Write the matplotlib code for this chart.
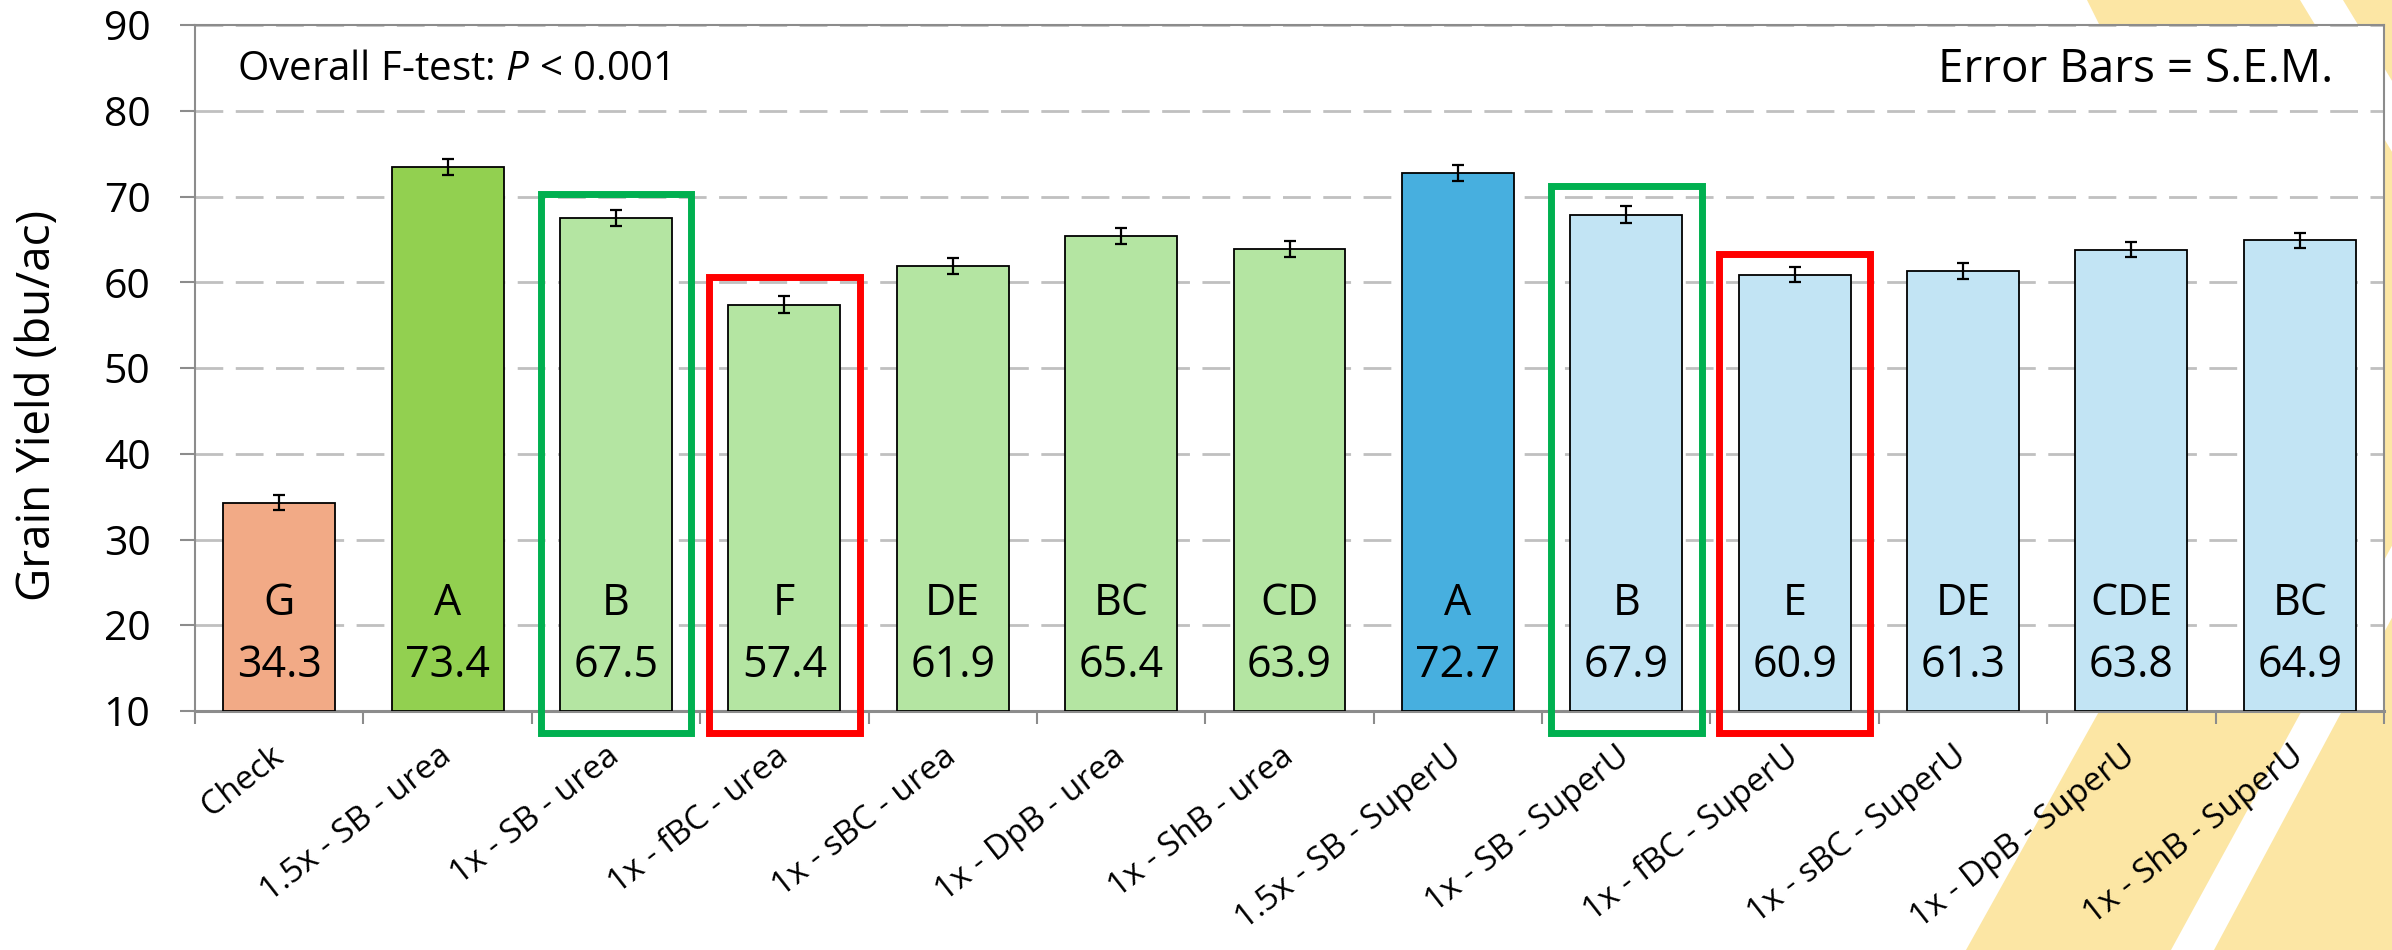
import matplotlib as mpl
mpl.use("Agg")
import matplotlib.pyplot as plt
from matplotlib.patches import Polygon, Rectangle
from matplotlib.transforms import ScaledTranslation
import numpy as np

# data
treatments = [
    "Check", "1.5x - SB - urea", "1x - SB - urea", "1x - fBC - urea",
    "1x - sBC - urea", "1x - DpB - urea", "1x - ShB - urea",
    "1.5x - SB - SuperU", "1x - SB - SuperU", "1x - fBC - SuperU",
    "1x - sBC - SuperU", "1x - DpB - SuperU", "1x - ShB - SuperU",
]
yield_bu = [34.3, 73.4, 67.5, 57.4, 61.9, 65.4, 63.9, 72.7, 67.9, 60.9, 61.3, 63.8, 64.9]
sem = [0.9, 0.95, 0.95, 0.95, 0.9, 0.95, 0.9, 0.95, 0.95, 0.9, 0.9, 0.9, 0.9]
letters = ["G", "A", "B", "F", "DE", "BC", "CD", "A", "B", "E", "DE", "CDE", "BC"]
bar_colors = ["#F2AA86", "#92D050"] + ["#B4E5A2"] * 5 + ["#47AFDF"] + ["#C2E4F4"] * 5

# hand-drawn highlight boxes (bar index, top value, colour)
box_idx = [2, 3, 8, 9]
box_top = [70.3, 60.6, 71.2, 63.3]
box_color = ["#00B050", "#FF0000", "#00B050", "#FF0000"]

plt.rcParams["font.family"] = ["Open Sans", "DejaVu Sans"]
plt.rcParams["mathtext.fontset"] = "custom"
plt.rcParams["mathtext.it"] = "Open Sans:italic"
plt.rcParams["mathtext.rm"] = "Open Sans"

W, H = 2392, 950
fig = plt.figure(figsize=(W / 100, H / 100), dpi=100)


def px(x, y):
    return (x / W, 1 - y / H)


# yellow slide decoration in the right margin
yellow = "#FCE6A4"
fig.add_artist(Polygon([px(2087, 0), px(W, 0), px(W, H), px(1966, H), px(2280, 387)],
                       closed=True, transform=fig.transFigure, color=yellow, lw=0, zorder=-5))
fig.add_artist(Polygon([px(2300, 0), px(2343, 0), px(2440, 160), px(2397, 160)],
                       closed=True, transform=fig.transFigure, color="white", lw=0, zorder=-4))
fig.add_artist(Polygon([px(2417, 500), px(2455, 500), px(2214, H), px(2171, H)],
                       closed=True, transform=fig.transFigure, color="white", lw=0, zorder=-4))

ax = fig.add_axes([195 / W, 1 - 711 / H, (2384 - 195) / W, (711 - 25) / H])
ax.set_facecolor("white")

x = np.arange(len(treatments))
ax.bar(x, np.array(yield_bu) - 10, bottom=10, width=0.665, color=bar_colors,
       edgecolor="black", linewidth=1.3, zorder=3)
ax.errorbar(x, yield_bu, yerr=sem, fmt="none", ecolor="black", elinewidth=1.6,
            capsize=4, capthick=1.6, zorder=4)

for xi, lt, v in zip(x, letters, yield_bu):
    ax.text(xi, 22.5, lt, ha="center", va="center", fontsize=31, zorder=5)
    ax.text(xi, 15.3, f"{v:.1f}", ha="center", va="center", fontsize=31, zorder=5)

for i, top, c in zip(box_idx, box_top, box_color):
    ax.add_patch(Rectangle((i - 0.448, 7.4), 0.896, top - 7.4, fill=False,
                           edgecolor=c, linewidth=5, clip_on=False, zorder=6))

ax.set_xlim(-0.5, len(treatments) - 0.5)
ax.set_ylim(10, 90)
ax.set_yticks(range(10, 91, 10))
ax.yaxis.grid(True, color="#C0C0C0", linewidth=2, linestyle=(0, (10, 4.5)), zorder=0)
ax.set_axisbelow(True)

ax.set_xticks(np.arange(-0.5, len(treatments)), minor=False)
ax.set_xticklabels([])
ax.set_xticks(x, minor=True)
ax.set_xticklabels(treatments, minor=True, rotation=38, ha="right", va="center",
                   rotation_mode="anchor", fontsize=24)
shift = ScaledTranslation(6 / 72, 0, fig.dpi_scale_trans)
for lab in ax.get_xticklabels(minor=True):
    lab.set_transform(lab.get_transform() + shift)
ax.tick_params(axis="x", which="major", length=9.5, width=1.5, color="#8C8C8C")
ax.tick_params(axis="x", which="minor", length=0, pad=30)
ax.tick_params(axis="y", length=11, width=1.5, color="#8C8C8C", labelsize=29.5, pad=21)

for side in ["top", "right", "left"]:
    ax.spines[side].set_color("#8C8C8C")
    ax.spines[side].set_linewidth(1.5)
ax.spines["bottom"].set_color("#8C8C8C")
ax.spines["bottom"].set_linewidth(2.2)

ax.set_ylabel("Grain Yield (bu/ac)", fontsize=33)
ax.yaxis.set_label_coords(-0.061, 0.445)

ax.text(0.019, 0.935, "Overall F-test: $P$ < 0.001", transform=ax.transAxes,
        ha="left", va="center", fontsize=29)
ax.text(0.977, 0.935, "Error Bars = S.E.M.", transform=ax.transAxes,
        ha="right", va="center", fontsize=33)

fig.savefig("out.png", dpi=100)
